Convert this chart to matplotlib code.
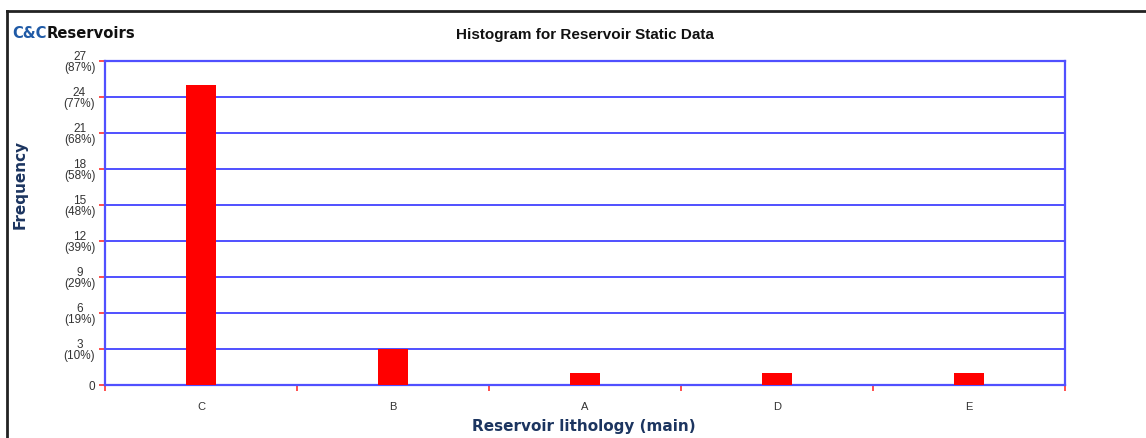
import matplotlib
matplotlib.use("Agg")
import matplotlib.pyplot as plt
from matplotlib.lines import Line2D

plt.rcParams['font.family'] = ['Liberation Sans', 'DejaVu Sans']

# data
categories = ["C", "B", "A", "D", "E"]
counts = [25, 3, 1, 1, 1]
y_ticks = [0, 3, 6, 9, 12, 15, 18, 21, 24, 27]

total = sum(counts)
y_labels = []
for t in y_ticks:
    if t == 0:
        y_labels.append("0")
    else:
        y_labels.append("%d\n(%d%%)" % (t, round(100.0 * t / total)))

blue = "#5050ff"
navy = "#1c3560"

fig = plt.figure(figsize=(11.46, 4.38), dpi=100)
ax = fig.add_axes([105 / 1146, 53 / 438, 960 / 1146, 324 / 438])

x = list(range(len(categories)))
ax.bar(x, counts, width=0.155, color="#ff0000", zorder=3)

ax.set_xlim(-0.5, len(categories) - 0.5)
ax.set_ylim(0, 27)

ax.set_yticks(y_ticks)
ax.set_yticklabels(y_labels, fontsize=8.5, color="#333333", linespacing=0.9,
                   multialignment="center")
ax.tick_params(axis="y", length=4, width=1.2, color="#ff3030", pad=3)
for t in y_ticks:
    ax.axhline(t, color=blue, lw=1.4, zorder=2)

# category labels at centers, red ticks at boundaries
ax.set_xticks(x)
ax.set_xticklabels(categories, fontsize=8, color="#333333")
ax.tick_params(axis="x", length=0, pad=12)
ax.set_xticks([i - 0.5 for i in range(len(categories) + 1)], minor=True)
ax.tick_params(axis="x", which="minor", length=4, width=1.2, color="#ff3030")

for s in ax.spines.values():
    s.set_color(blue)
    s.set_linewidth(1.6)

fig.text(585 / 1146, 1 - 35 / 438, "Histogram for Reservoir Static Data",
         ha="center", va="center", fontsize=11, fontweight="bold", color="#111111")
fig.text(584 / 1146, 1 - 426 / 438, "Reservoir lithology (main)",
         ha="center", va="center", fontsize=11, fontweight="bold", color=navy,
         family="DejaVu Sans")
fig.text(20 / 1146, 1 - 184 / 438, "Frequency", rotation=90,
         ha="center", va="center", fontsize=11, fontweight="bold", color=navy,
         family="DejaVu Sans")

# logo
logo_size = 15
logo_font = dict(fontweight="bold", family="DejaVu Sans", fontstretch="condensed")
logo1 = fig.text(12 / 1146, 1 - 34 / 438, "C&C", ha="left", va="center",
                 fontsize=logo_size, color="#1f5aa6", **logo_font)
fig.canvas.draw()
bb = logo1.get_window_extent()
logo2 = fig.text(bb.x1 / 1146, 1 - 34 / 438, "Reservoirs", ha="left", va="center",
                 fontsize=logo_size, color="#111111", **logo_font)
fig.canvas.draw()
w = logo2.get_window_extent().x1 - bb.x0
scale = 123.0 / w
logo1.set_fontsize(logo_size * scale)
fig.canvas.draw()
bb = logo1.get_window_extent()
logo2.set_fontsize(logo_size * scale)
logo2.set_x(bb.x1 / 1146)

# outer frame (top and left)
fig.add_artist(Line2D([7 / 1146, 1], [1 - 11 / 438, 1 - 11 / 438],
                      transform=fig.transFigure, color="#222222", lw=2))
fig.add_artist(Line2D([7 / 1146, 7 / 1146], [0, 1 - 11 / 438],
                      transform=fig.transFigure, color="#222222", lw=2))

fig.savefig("out.png", dpi=100)
